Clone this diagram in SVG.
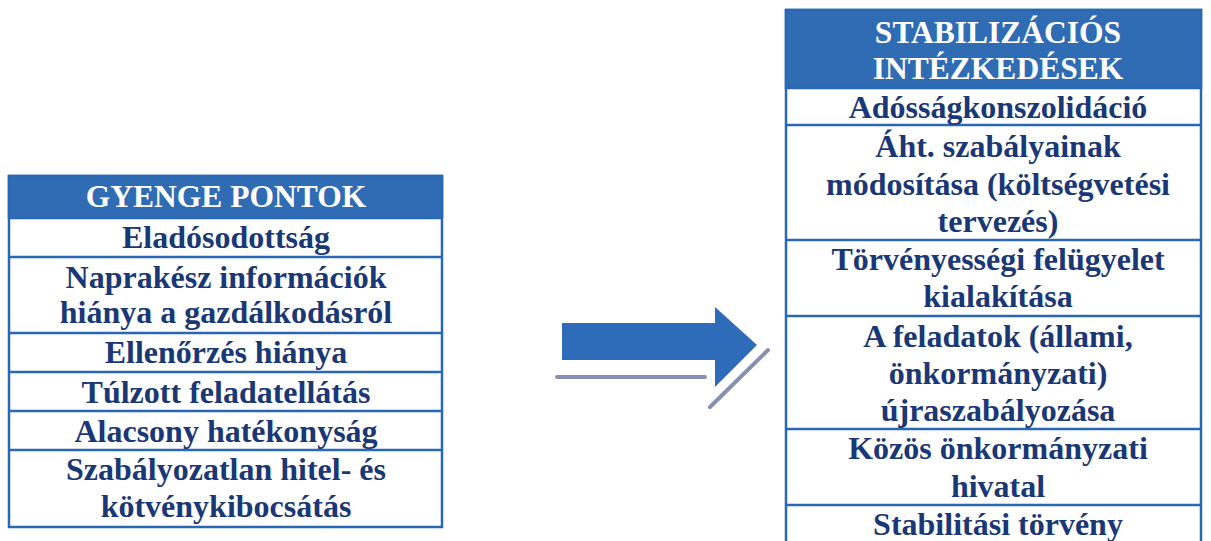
<svg xmlns="http://www.w3.org/2000/svg" width="1211" height="541" viewBox="0 0 1211 541">
<style>
.frame{fill:#ffffff;stroke:#2b68b4;stroke-width:2.5}
.hdr{fill:#2f6cb4;stroke:#2b68b4;stroke-width:2.5}
.sep{stroke:#2b68b4;stroke-width:2.5}
.ht{font-family:"Liberation Serif",serif;font-weight:bold;font-size:31.5px;fill:#ffffff;text-anchor:middle}
.t{font-family:"Liberation Serif",serif;font-weight:bold;font-size:32px;fill:#1a3875;text-anchor:middle}
.shadow{stroke:#8790b4;stroke-width:4;stroke-linecap:round;fill:none}
</style>
<rect width="1211" height="541" fill="#ffffff"/>
<g id="gyenge-pontok">
<rect class="frame" x="9" y="176" width="433" height="351"/>
<rect class="hdr" x="9" y="176" width="433" height="42"/>
<text class="ht" x="226" y="207">GYENGE PONTOK</text>
<line class="sep" x1="9" y1="257" x2="442" y2="257"/>
<line class="sep" x1="9" y1="333" x2="442" y2="333"/>
<line class="sep" x1="9" y1="372" x2="442" y2="372"/>
<line class="sep" x1="9" y1="411" x2="442" y2="411"/>
<line class="sep" x1="9" y1="450" x2="442" y2="450"/>
<text class="t" x="226" y="248">Eladósodottság</text>
<text class="t" x="226" y="288">Naprakész információk</text>
<text class="t" x="226" y="323">hiánya a gazdálkodásról</text>
<text class="t" x="226" y="363">Ellenőrzés hiánya</text>
<text class="t" x="226" y="403">Túlzott feladatellátás</text>
<text class="t" x="226" y="442">Alacsony hatékonyság</text>
<text class="t" x="226" y="480">Szabályozatlan hitel- és</text>
<text class="t" x="226" y="517">kötvénykibocsátás</text>
</g>
<g id="stabilizacios-intezkedesek">
<rect class="frame" x="786" y="10" width="415" height="545"/>
<rect class="hdr" x="786" y="10" width="415" height="78"/>
<text class="ht" x="998" y="43">STABILIZÁCIÓS</text>
<text class="ht" x="998" y="79">INTÉZKEDÉSEK</text>
<line class="sep" x1="786" y1="125" x2="1201" y2="125"/>
<line class="sep" x1="786" y1="240" x2="1201" y2="240"/>
<line class="sep" x1="786" y1="316" x2="1201" y2="316"/>
<line class="sep" x1="786" y1="429" x2="1201" y2="429"/>
<line class="sep" x1="786" y1="505" x2="1201" y2="505"/>
<text class="t" x="998" y="118">Adósságkonszolidáció</text>
<text class="t" x="998" y="157">Áht. szabályainak</text>
<text class="t" x="998" y="195">módosítása (költségvetési</text>
<text class="t" x="998" y="232">tervezés)</text>
<text class="t" x="998" y="270">Törvényességi felügyelet</text>
<text class="t" x="998" y="307">kialakítása</text>
<text class="t" x="998" y="347">A feladatok (állami,</text>
<text class="t" x="998" y="384">önkormányzati)</text>
<text class="t" x="998" y="421">újraszabályozása</text>
<text class="t" x="998" y="459">Közös önkormányzati</text>
<text class="t" x="998" y="497">hivatal</text>
<text class="t" x="998" y="535">Stabilitási törvény</text>
</g>
<g id="connectors">
<line class="shadow" x1="557" y1="377" x2="705" y2="377"/>
<line class="shadow" x1="768" y1="350" x2="710" y2="407"/>
<polygon points="562,323 715,323 715,307 757,345 715,387 715,360 562,360" fill="#2e6bb8"/>
</g>
</svg>
